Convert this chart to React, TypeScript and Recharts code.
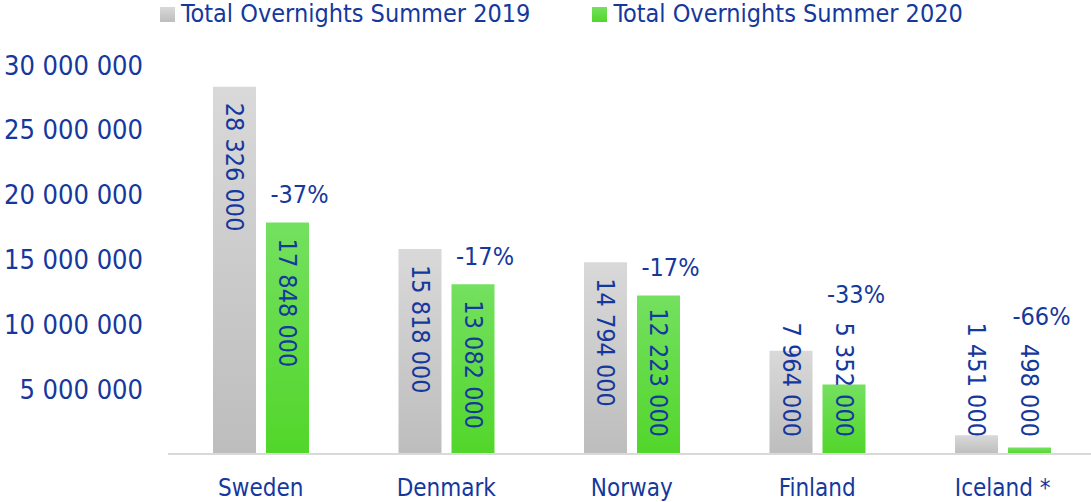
import React from "react"
import { Bar, BarChart, XAxis, YAxis, LabelList } from "recharts"

const countries = ["Sweden", "Denmark", "Norway", "Finland", "Iceland *"]
const summer2019 = [28326000, 15818000, 14794000, 7964000, 1451000]
const summer2020 = [17848000, 13082000, 12223000, 5352000, 498000]
const yTicks = [5000000, 10000000, 15000000, 20000000, 25000000, 30000000]

const data = countries.map((name, i) => ({
  name,
  y2019: summer2019[i],
  y2020: summer2020[i],
}))

const BLUE = "#15389c"
const FONT = "'DejaVu Sans Condensed', 'DejaVu Sans', sans-serif"
const FS = 25
const AXIS_Y = 454

const fmt = (v: number) => String(v).replace(/\B(?=(\d{3})+(?!\d))/g, " ")

// rough text length: digits ~0.572em, spaces ~0.286em in the condensed face
const textLen = (t: string) => {
  let n = 0
  for (const c of t) n += c === " " ? 0.286 : 0.572
  return n * FS
}

// where the rotated value label starts (top end)
const labelStart = (y: number, text: string) => Math.min(y + 16, AXIS_Y - 17 - textLen(text))

const ValueLabel = (props: any) => {
  const { x, y, width, value } = props
  const text = fmt(value)
  const cx = x + width / 2
  const sy = labelStart(y, text)
  return (
    <text
      x={cx}
      y={sy}
      transform={`rotate(90, ${cx}, ${sy})`}
      fill={BLUE}
      fontSize={FS}
      fontFamily={FONT}
      textAnchor="start"
      dominantBaseline="central"
    >
      {text}
    </text>
  )
}

const PctLabel = (props: any) => {
  const { x, y, width, index } = props
  const pct = Math.round((summer2020[index] / summer2019[index] - 1) * 100)
  const top = Math.min(y, labelStart(y, fmt(summer2020[index])))
  return (
    <text
      x={x + width / 2 + 12}
      y={top - 28}
      fill={BLUE}
      fontSize={FS}
      fontFamily={FONT}
      textAnchor="middle"
      dominantBaseline="central"
    >
      {`${pct}%`}
    </text>
  )
}

export default function App() {
  return (
    <div style={{ position: "fixed", left: 0, top: 0, width: 1091, height: 502, overflow: "hidden", background: "#fff" }}>
      <div style={{ position: "absolute", left: 160, top: 0, display: "flex", alignItems: "center", fontFamily: FONT, fontSize: FS, color: BLUE, lineHeight: "28px" }}>
        <span style={{ width: 15, height: 15, background: "linear-gradient(#d9d9d9, #bdbdbd)", marginRight: 6 }} />
        <span>Total Overnights Summer 2019</span>
        <span style={{ width: 15, height: 15, background: "linear-gradient(#74e060, #52d62a)", marginLeft: 62, marginRight: 6 }} />
        <span>Total Overnights Summer 2020</span>
      </div>
      <BarChart
        width={1100}
        height={502}
        data={data}
        barSize={43}
        barGap={10}
        margin={{ top: 65, right: 4.5, bottom: 18, left: 8 }}
      >
        <defs>
          <linearGradient id="grey" x1="0" y1="0" x2="0" y2="1">
            <stop offset="0%" stopColor="#d9d9d9" />
            <stop offset="100%" stopColor="#bdbdbd" />
          </linearGradient>
          <linearGradient id="green" x1="0" y1="0" x2="0" y2="1">
            <stop offset="0%" stopColor="#74e060" />
            <stop offset="100%" stopColor="#52d62a" />
          </linearGradient>
        </defs>
        <XAxis
          dataKey="name"
          height={30}
          tickLine={false}
          axisLine={{ stroke: "#d9d9d9", strokeWidth: 2 }}
          tickSize={0}
          tickMargin={25}
          tick={{ fill: BLUE, fontSize: 24, fontFamily: FONT }}
        />
        <YAxis
          width={160}
          domain={[0, 30000000]}
          ticks={yTicks}
          tickFormatter={fmt}
          axisLine={false}
          tickLine={false}
          tickSize={0}
          tickMargin={25}
          tick={{ fill: BLUE, fontSize: 27, fontFamily: FONT }}
        />
        <Bar dataKey="y2019" fill="url(#grey)" isAnimationActive={false}>
          <LabelList dataKey="y2019" content={ValueLabel} />
        </Bar>
        <Bar dataKey="y2020" fill="url(#green)" isAnimationActive={false}>
          <LabelList dataKey="y2020" content={ValueLabel} />
          <LabelList dataKey="y2020" content={PctLabel} />
        </Bar>
      </BarChart>
    </div>
  )
}
